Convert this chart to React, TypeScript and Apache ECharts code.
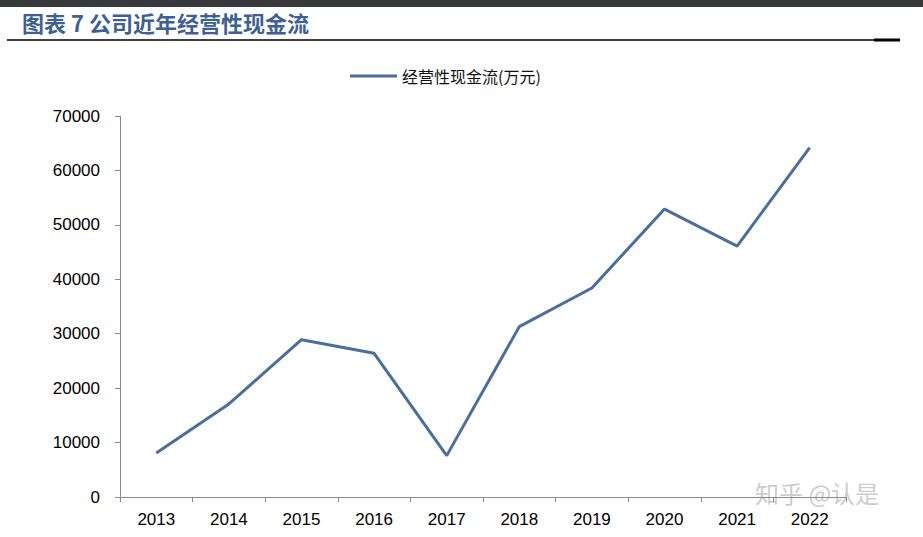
import React, { useEffect, useRef } from "react";
import * as echarts from "echarts";

const years = ["2013", "2014", "2015", "2016", "2017", "2018", "2019", "2020", "2021", "2022"];
const cashFlow = [8100, 17100, 28900, 26400, 7600, 31300, 38400, 52900, 46100, 64200];
const seriesName = "经营性现金流(万元)";
const titleText = "图表 7 公司近年经营性现金流";
const watermark = "知乎 @认是";

export default function App() {
  const ref = useRef<HTMLDivElement>(null);
  useEffect(() => {
    if (!ref.current) return;
    const chart = echarts.init(ref.current, null, { renderer: "svg" });
    chart.setOption({
      animation: false,
      backgroundColor: "#ffffff",
      grid: { left: 120, right: 77, top: 116, bottom: 40 },
      legend: {
        top: 63,
        left: 345,
        icon: "rect",
        itemWidth: 47,
        itemHeight: 3,
        itemGap: 8,
        textStyle: { fontFamily: "Noto Sans CJK SC", fontSize: 16, color: "#111" },
        data: [seriesName],
      },
      xAxis: {
        type: "category",
        data: years,
        boundaryGap: true,
        axisLine: { lineStyle: { color: "#8c8c8c", width: 1 } },
        axisTick: { show: true, length: 5, lineStyle: { color: "#8c8c8c" } },
        axisLabel: { color: "#000", fontSize: 17, fontFamily: "Liberation Sans", margin: 14 },
      },
      yAxis: {
        type: "value",
        min: 0,
        max: 70000,
        interval: 10000,
        axisLine: { show: true, lineStyle: { color: "#8c8c8c", width: 1 } },
        axisTick: { show: true, length: 5, lineStyle: { color: "#8c8c8c" } },
        splitLine: { show: false },
        axisLabel: {
          color: "#000",
          fontSize: 17,
          fontFamily: "Liberation Sans",
          margin: 20,
          formatter: (v: number) => String(v),
        },
      },
      series: [
        {
          name: seriesName,
          type: "line",
          data: cashFlow,
          symbol: "none",
          lineStyle: { color: "#4a6e9e", width: 3 },
          itemStyle: { color: "#4a6e9e" },
        },
      ],
      graphic: [
        { type: "rect", shape: { x: 0, y: 0, width: 923, height: 7 }, style: { fill: "#36383b" } },
        {
          type: "text",
          x: 22,
          y: 11,
          style: {
            text: titleText,
            fill: "#3d6096",
            font: "bold 22px 'Noto Sans CJK SC'",
          },
        },
        { type: "line", shape: { x1: 7, y1: 40, x2: 900, y2: 40 }, style: { stroke: "#000", lineWidth: 1.5 } },
        { type: "line", shape: { x1: 874, y1: 40, x2: 900, y2: 40 }, style: { stroke: "#000", lineWidth: 3 } },
        {
          type: "text",
          x: 755,
          y: 480,
          style: {
            text: watermark,
            fill: "rgba(160,160,160,0.55)",
            font: "24px 'Noto Sans CJK SC'",
          },
        },
      ],
    });
    return () => chart.dispose();
  }, []);
  return <div ref={ref} style={{ position: "fixed", left: 0, top: 0, width: 923, height: 537 }} />;
}
